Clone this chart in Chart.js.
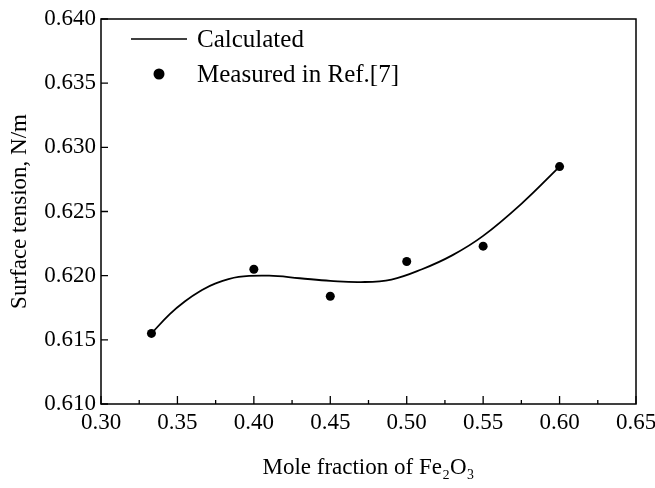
<!DOCTYPE html>
<html lang="en">
<head>
    <meta charset="utf-8">
    <title>Surface tension vs mole fraction of Fe2O3</title>
    <script src="https://cdn.jsdelivr.net/npm/chart.js"></script>
    <style>
        html, body {
            margin: 0;
            padding: 0;
            background: #ffffff;
        }
        .chart-box {
            position: relative;
            width: 655px;
            height: 488px;
        }
    </style>
</head>
<body>
    <div class="chart-box">
        <canvas id="tensionChart" width="655" height="488"></canvas>
    </div>

    <script>
        // calculated curve
        const calcX = [0.333, 0.345, 0.355, 0.365, 0.375, 0.390, 0.410, 0.430, 0.450, 0.470, 0.490, 0.510, 0.530, 0.550, 0.575, 0.600];
        const calcY = [0.6155, 0.6170, 0.6180, 0.6188, 0.6194, 0.6199, 0.6200, 0.6198, 0.6196, 0.6195, 0.6197, 0.6205, 0.6216, 0.6231, 0.6256, 0.6285];

        // measured values, Ref.[7]
        const measX = [0.333, 0.40, 0.45, 0.50, 0.55, 0.60];
        const measY = [0.6155, 0.6205, 0.6184, 0.6211, 0.6223, 0.6285];

        const xTicks = [0.30, 0.35, 0.40, 0.45, 0.50, 0.55, 0.60, 0.65];
        const yTicks = [0.610, 0.615, 0.620, 0.625, 0.630, 0.635, 0.640];

        const serif = '"Liberation Serif", "Times New Roman", serif';

        // frame + inward ticks, like the original origin-style plot
        const framePlugin = {
            id: 'frame',
            afterDraw(chart) {
                const ctx = chart.ctx;
                const a = chart.chartArea;
                const xs = chart.scales.x;
                const ys = chart.scales.y;
                ctx.save();
                ctx.strokeStyle = '#000';
                ctx.lineWidth = 1.5;
                ctx.strokeRect(a.left, a.top, a.right - a.left, a.bottom - a.top);

                ctx.lineWidth = 1.3;
                ctx.beginPath();
                xTicks.forEach((v, i) => {
                    const px = xs.getPixelForValue(v);
                    ctx.moveTo(px, a.bottom);
                    ctx.lineTo(px, a.bottom - 8);
                    if (i < xTicks.length - 1) {
                        const mx = xs.getPixelForValue((v + xTicks[i + 1]) / 2);
                        ctx.moveTo(mx, a.bottom);
                        ctx.lineTo(mx, a.bottom - 4);
                    }
                });
                yTicks.forEach(v => {
                    const py = ys.getPixelForValue(v);
                    ctx.moveTo(a.left, py);
                    ctx.lineTo(a.left + 7, py);
                });
                ctx.stroke();
                ctx.restore();
            }
        };

        // legend inside the plot, top-left
        const insideLegend = {
            id: 'insideLegend',
            afterDraw(chart) {
                const ctx = chart.ctx;
                const ds = chart.data.datasets;
                ctx.save();
                ctx.font = '25px ' + serif;
                ctx.fillStyle = '#000';
                ctx.textBaseline = 'middle';

                ctx.strokeStyle = '#000';
                ctx.lineWidth = 1.5;
                ctx.beginPath();
                ctx.moveTo(131, 39);
                ctx.lineTo(187, 39);
                ctx.stroke();
                ctx.fillText(ds[0].label, 197, 40);

                ctx.beginPath();
                ctx.arc(159, 74, 5.5, 0, Math.PI * 2);
                ctx.fill();
                ctx.fillText(ds[1].label, 197, 75);
                ctx.restore();
            }
        };

        new Chart(document.getElementById('tensionChart'), {
            type: 'scatter',
            data: {
                datasets: [{
                    label: 'Calculated',
                    data: calcX.map((x, i) => ({ x: x, y: calcY[i] })),
                    showLine: true,
                    borderColor: '#000',
                    borderWidth: 1.8,
                    pointRadius: 0,
                    tension: 0.4,
                    fill: false
                }, {
                    label: 'Measured in Ref.[7]',
                    data: measX.map((x, i) => ({ x: x, y: measY[i] })),
                    backgroundColor: '#000',
                    borderColor: '#000',
                    pointRadius: 4.5,
                    pointBorderWidth: 0
                }]
            },
            options: {
                responsive: false,
                animation: false,
                layout: {
                    padding: { top: 19, right: 19, left: 0, bottom: 0 }
                },
                plugins: {
                    legend: { display: false },
                    tooltip: { enabled: false }
                },
                scales: {
                    x: {
                        type: 'linear',
                        min: 0.30,
                        max: 0.65,
                        afterBuildTicks: s => { s.ticks = xTicks.map(v => ({ value: v })); },
                        afterFit: s => {
                            s.height = 84;
                            s.paddingLeft = 0;
                            s.paddingRight = 0;
                        },
                        grid: { display: false, drawTicks: false },
                        border: { display: false },
                        ticks: {
                            color: '#000',
                            padding: 5,
                            autoSkip: false,
                            maxRotation: 0,
                            font: { family: serif, size: 23 },
                            callback: v => v.toFixed(2)
                        },
                        title: {
                            display: true,
                            text: 'Mole fraction of Fe₂O₃',
                            color: '#000',
                            font: { family: serif, size: 23 },
                            padding: { top: 0, bottom: 6 }
                        }
                    },
                    y: {
                        min: 0.610,
                        max: 0.640,
                        afterBuildTicks: s => { s.ticks = yTicks.map(v => ({ value: v })); },
                        afterFit: s => {
                            s.width = 101;
                            s.paddingTop = 0;
                            s.paddingBottom = 0;
                        },
                        grid: { display: false, drawTicks: false },
                        border: { display: false },
                        ticks: {
                            color: '#000',
                            padding: 5,
                            autoSkip: false,
                            font: { family: serif, size: 23 },
                            callback: v => v.toFixed(3)
                        },
                        title: {
                            display: true,
                            text: 'Surface tension, N/m',
                            color: '#000',
                            font: { family: serif, size: 23 },
                            padding: { top: 6, bottom: 0 }
                        }
                    }
                }
            },
            plugins: [framePlugin, insideLegend]
        });
    </script>
</body>
</html>
